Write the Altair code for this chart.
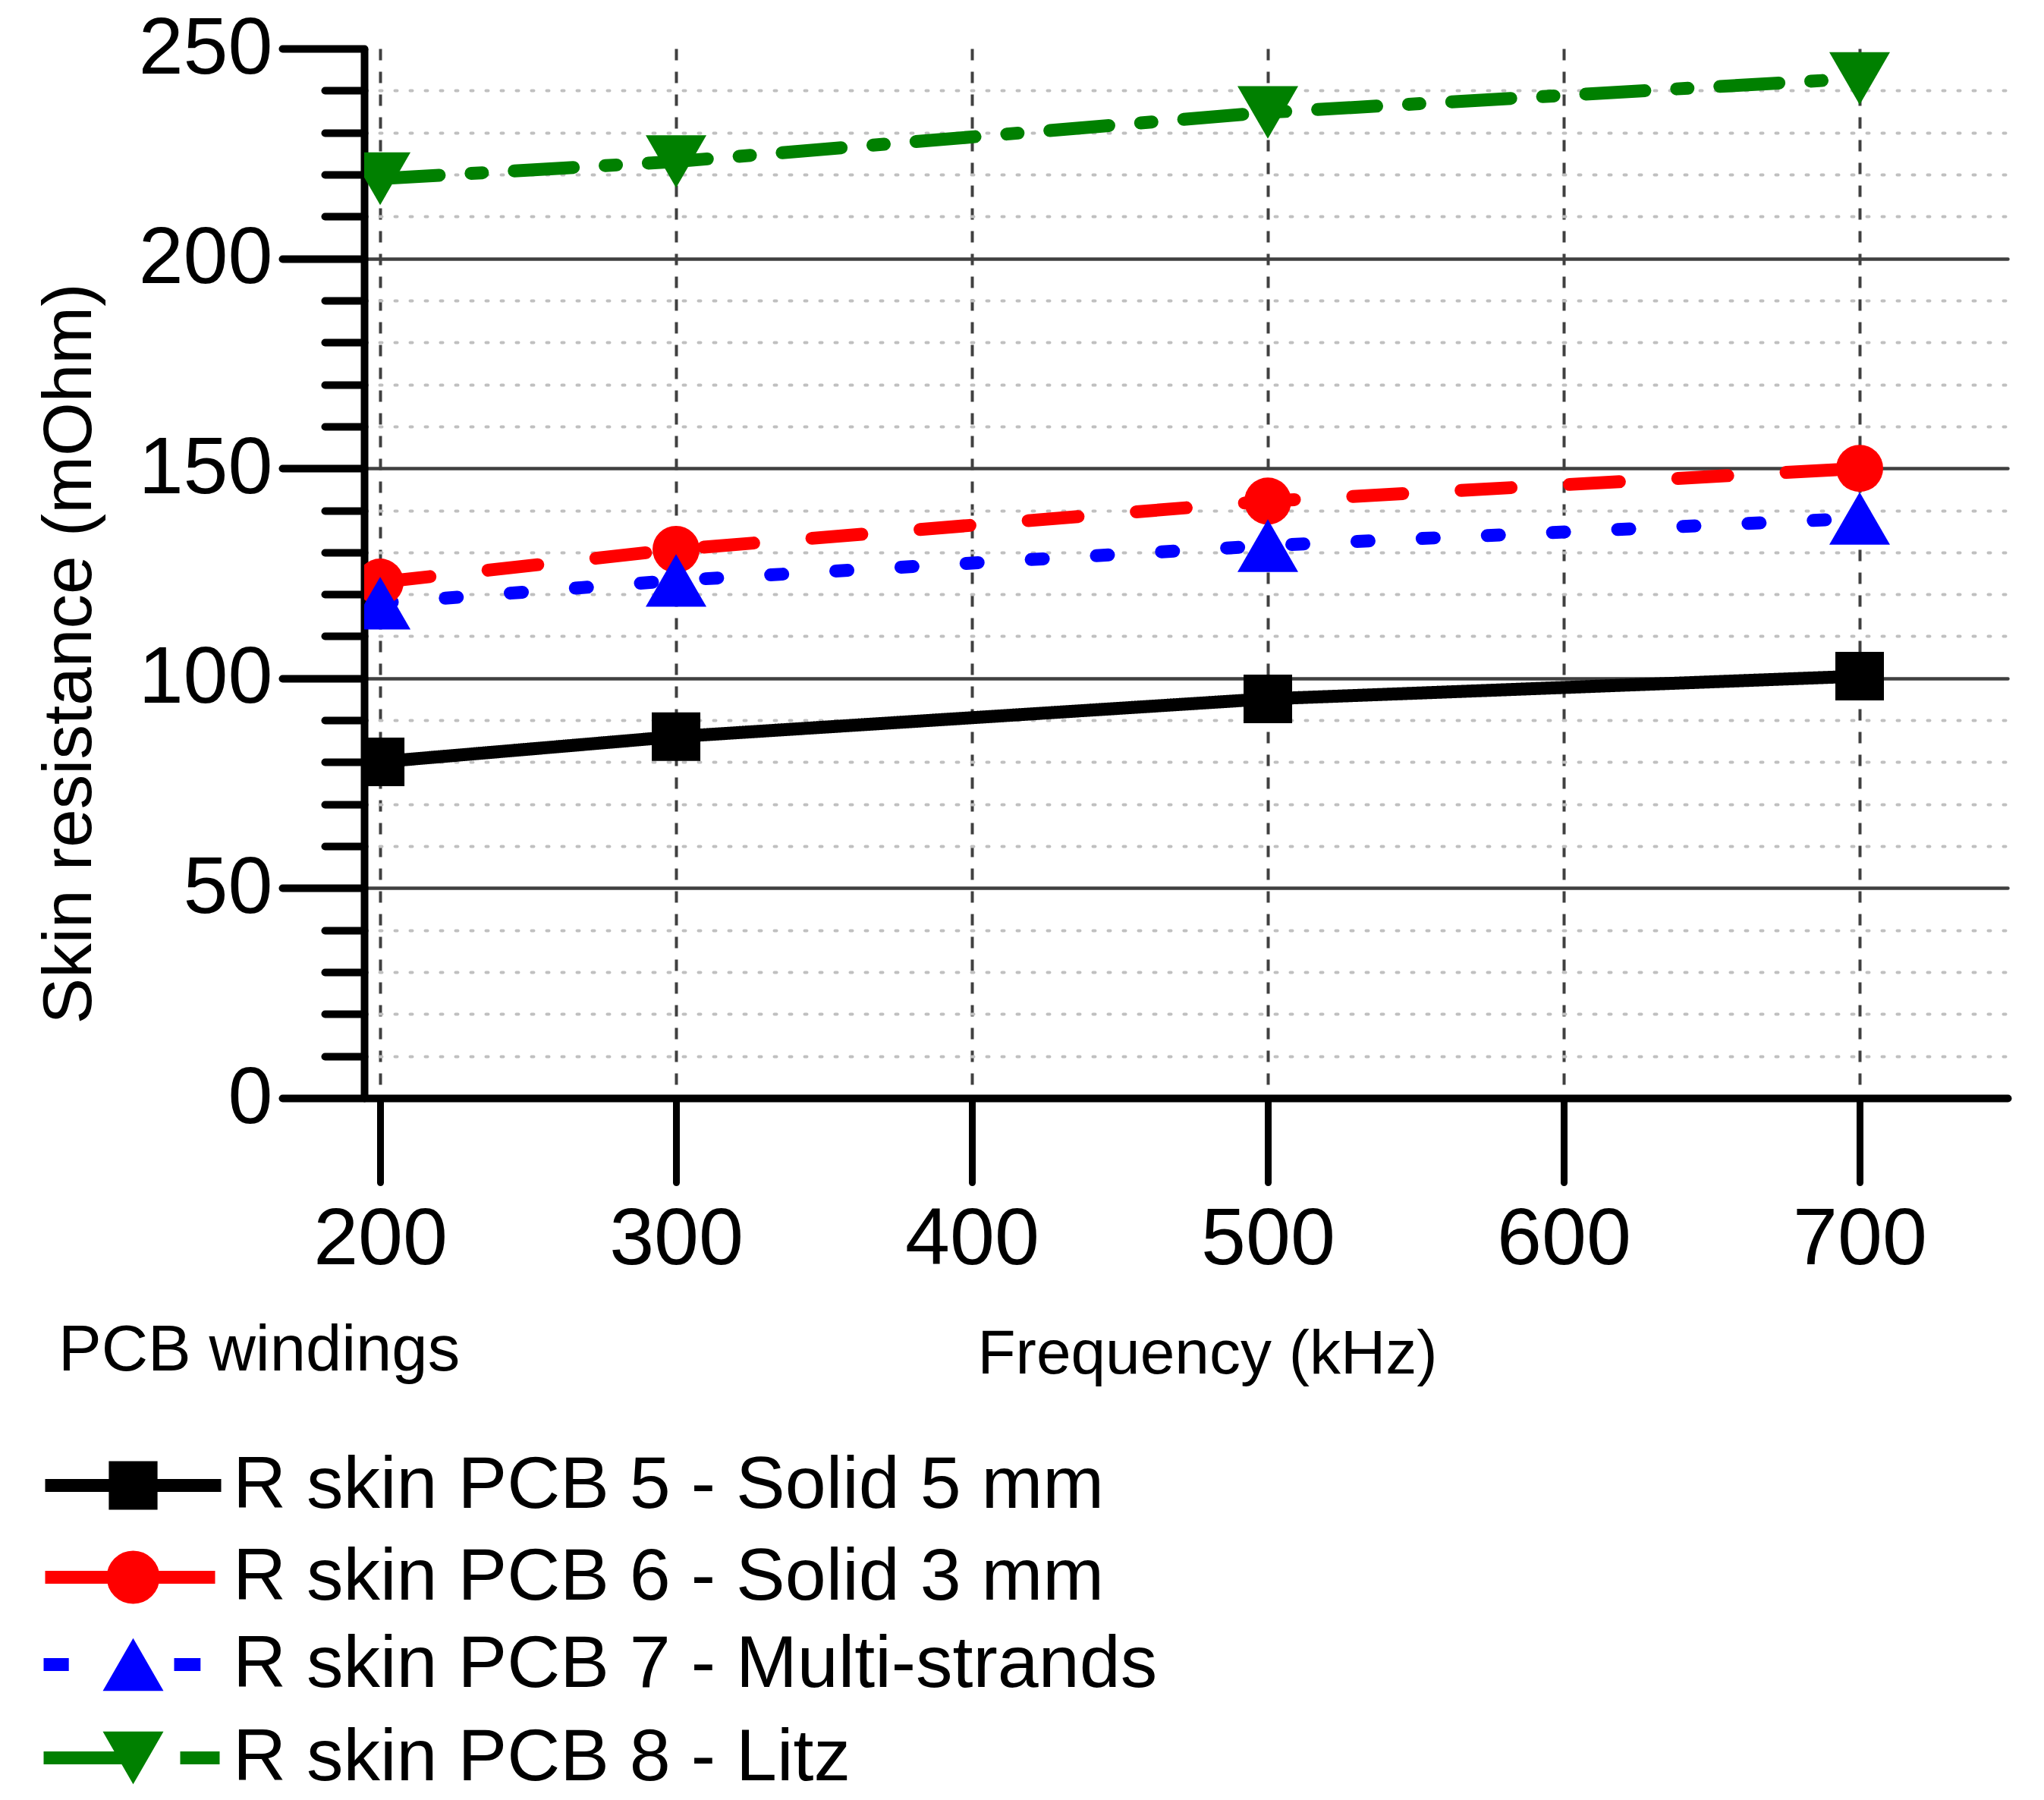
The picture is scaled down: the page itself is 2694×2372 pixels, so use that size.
import altair as alt
import pandas as pd

# ---- data ----
series = [
    "R skin PCB 5 - Solid 5 mm",
    "R skin PCB 6 - Solid 3 mm",
    "R skin PCB 7 - Multi-strands",
    "R skin PCB 8 - Litz",
]
freq = [200, 300, 500, 700]
pcb5 = [80.1, 86.1, 95.1, 100.5]
pcb6 = [122.9, 130.7, 142.2, 150.0]
pcb7 = [117.9, 123.3, 131.6, 138.1]
pcb8 = [219.0, 223.1, 234.8, 242.9]
x_ticks = [200, 300, 400, 500, 600, 700]
y_ticks = [0, 10, 20, 30, 40, 50, 60, 70, 80, 90, 100, 110, 120, 130, 140,
           150, 160, 170, 180, 190, 200, 210, 220, 230, 240, 250]

# ---- styles ----
colors = ["#000000", "#ff0000", "#0000ff", "#008000"]
dashes = [[1, 0], [66, 77], [16, 70], [78, 42, 15, 42]]
shapes = ["square", "circle", "triangle-up", "triangle-down"]
sizes = [4096, 3848, 6400, 6400]
legend_paths = [
    "M-2.9,0H2.9M-0.59,-0.59H0.59V0.59H-0.59Z",
    "M-2.9,0H2.7M-0.66,0A0.66,0.66,0,1,0,0.66,0A0.66,0.66,0,1,0,-0.66,0Z",
    "M-2.95,0H-2.12M1.35,0H2.22M0,-0.441L0.632,0.654L-0.632,0.654Z",
    "M-2.95,0H0M1.55,0H2.85M0,0.441L0.632,-0.654L-0.632,-0.654Z",
]

rows = []
for name, vals in zip(series, [pcb5, pcb6, pcb7, pcb8]):
    for f, v in zip(freq, vals):
        rows.append({"series": name, "freq": f, "value": v})
df = pd.DataFrame(rows)

FONT = "Liberation Sans"
MAJOR = "datum.value % 50 === 0"

x_axis = alt.Axis(
    values=x_ticks, format="d", title="Frequency (kHz)",
    titleFont=FONT, titleFontSize=82, titleFontWeight="normal", titleColor="black",
    titleX=1111, titleY=362, titleBaseline="alphabetic", titleAlign="center",
    labelFont=FONT, labelFontSize=106, labelColor="black", labelPadding=23,
    labelFlush=False, labelOverlap=False,
    tickSize=111, tickWidth=9, tickColor="black", tickCap="round",
    domainColor="black", domainWidth=10, domainCap="round",
    grid=True, gridColor="#404040", gridDash=[15, 15], gridWidth=4,
)

y_axis = alt.Axis(
    values=y_ticks, title="Skin resistance (mOhm)",
    titleFont=FONT, titleFontSize=91, titleFontWeight="normal", titleColor="black",
    titleAngle=270, titleX=-361, titleY=797, titleBaseline="alphabetic", titleAlign="center",
    labelFont=FONT, labelFontSize=106, labelColor="black", labelPadding=13,
    labelExpr="datum.value % 50 === 0 ? datum.label : ''", labelOverlap=False,
    tickSize={"condition": {"test": MAJOR, "value": 108}, "value": 52},
    tickWidth=10, tickColor="black", tickCap="round",
    domainColor="black", domainWidth=10,
    grid=True,
    gridColor={"condition": {"test": MAJOR, "value": "#404040"}, "value": "#c0c0c0"},
    gridDash={"condition": {"test": MAJOR, "value": [1, 0]}, "value": [3, 17]},
    gridWidth={"condition": {"test": MAJOR, "value": 4.5}, "value": 4},
    gridOpacity={"condition": {"test": "datum.value === 0 || datum.value === 250", "value": 0}, "value": 1},
    gridCap="round",
)

x_enc = alt.X("freq:Q", scale=alt.Scale(domain=[194.6, 750], nice=False, zero=False), axis=x_axis)
y_enc = alt.Y("value:Q", scale=alt.Scale(domain=[0, 250], nice=False, zero=True), axis=y_axis)

base = alt.Chart(df)

leg = alt.Legend(
    title="PCB windings", orient="none", legendX=-403, legendY=1675, direction="vertical",
    titleFont=FONT, titleFontSize=85, titleFontWeight="normal", titleColor="black",
    titlePadding=85, titleLimit=3000,
    labelFont=FONT, labelFontSize=97, labelColor="black", labelLimit=3000, labelOffset=83,
    symbolSize=6400, symbolStrokeWidth=17, symbolOffset=50, symbolOpacity=1,
    rowPadding=2, padding=0,
)

# legend-only layer: zero-size marks on the data, carries the combined line+marker legend
legend_layer = base.mark_point(
    filled=True, size=0, strokeWidth=17, opacity=1, clip=True
).encode(
    x=x_enc, y=y_enc,
    fill=alt.Fill("series:N", scale=alt.Scale(domain=series, range=colors), legend=leg),
    stroke=alt.Stroke("series:N", scale=alt.Scale(domain=series, range=colors), legend=leg),
    shape=alt.Shape("series:N", scale=alt.Scale(domain=series, range=legend_paths), legend=leg),
)

lines = []
for name, col, dash in zip(series, colors, dashes):
    lines.append(
        base.transform_filter(alt.datum.series == name)
        .mark_line(color=col, strokeDash=dash, strokeWidth=17, strokeCap="round",
                   strokeJoin="round", clip=True)
        .encode(x="freq:Q", y="value:Q", order="freq:Q")
    )

points = []
for name, col, shp, sz in zip(series, colors, shapes, sizes):
    points.append(
        base.transform_filter(alt.datum.series == name)
        .mark_point(shape=shp, size=sz, filled=True, opacity=1, color=col, clip=True)
        .encode(x="freq:Q", y="value:Q")
    )

chart = alt.layer(legend_layer, *lines, *points).properties(
    width=2166, height=1383,
    autosize=alt.AutoSizeParams(type="none"),
    padding={"left": 472, "top": 56, "right": 40, "bottom": 917},
    background="white",
).configure_view(stroke=None)

chart.save("out.html", embed_options={"renderer": "svg", "actions": False})
